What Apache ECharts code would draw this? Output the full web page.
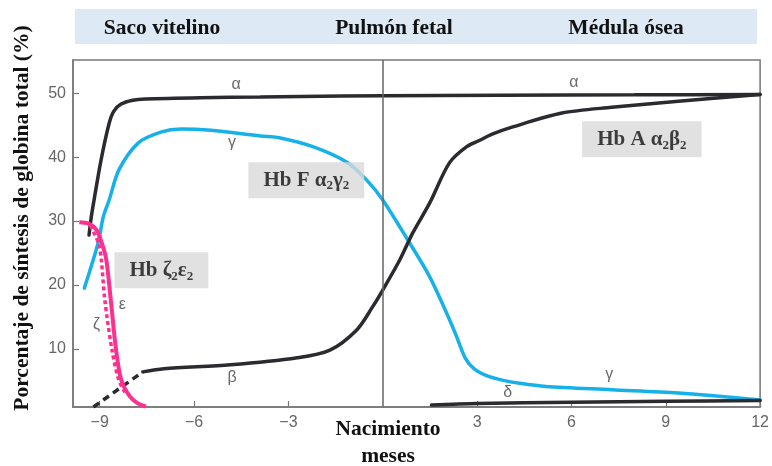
<!DOCTYPE html>
<html>
<head>
<meta charset="utf-8">
<script src="https://cdn.jsdelivr.net/npm/echarts@6/dist/echarts.min.js"></script>
<style>html,body{margin:0;padding:0;background:#fff}#c{width:772px;height:466px}</style>
</head>
<body>
<div id="c"></div>
<script>
// ---- data (months, % of total globin synthesis) ----
const xTicks = [-9, -6, -3, 3, 6, 9, 12];
const yTicks = [10, 20, 30, 40, 50];
const alpha = [[-9.34,27.8],[-9.27,30.6],[-9.18,33.3],[-8.96,39.5],[-8.70,45.3],[-8.55,47.2],[-8.32,48.3],[-7.95,48.9],[-7.55,49.1],[-5.8,49.3],[-3.9,49.4],[-2.6,49.5],[0,49.6],[3.7,49.7],[8,49.75],[12,49.8]];
const gamma = [[-9.49,19.5],[-9.05,26.6],[-8.89,30.6],[-8.70,33.3],[-8.39,38.0],[-7.78,42.2],[-7.06,43.9],[-6.42,44.4],[-5.47,44.2],[-3.89,43.3],[-3.26,43.0],[-2.2,41.6],[-1.14,39.2],[-0.51,36.4],[0,33.3],[0.85,26.6],[1.49,21.3],[2.03,15.6],[2.35,11.9],[2.62,8.6],[2.9,6.9],[3.3,5.8],[3.8,5.1],[4.36,4.6],[5.19,4.1],[7.28,3.6],[9.40,3.1],[12,2.0]];
const beta = [[-7.63,6.4],[-6.96,6.9],[-4.84,7.5],[-2.72,8.6],[-1.68,9.8],[-0.82,13.0],[-0.32,16.6],[0,19.2],[0.54,23.9],[0.95,28.1],[1.49,32.8],[2.12,39.1],[2.66,41.6],[3.07,42.6],[3.48,43.6],[4.11,44.7],[5.70,46.9],[7.28,47.8],[9.40,48.75],[12,49.8]];
const betaEarly = [[-9.2,0.9],[-7.63,6.4]];
const delta = [[1.55,1.2],[3,1.45],[6,1.65],[9,1.8],[12,1.9]];
const epsilon = [[-9.65,29.8],[-9.35,29.6],[-9.1,28.6],[-8.93,26.5],[-8.79,23.9],[-8.65,17.7],[-8.48,9.8],[-8.32,5.2],[-8.05,2.6],[-7.8,1.5],[-7.53,0.95]];
const zeta = [[-9.3,29.3],[-9.04,26.5],[-8.95,23.9],[-8.84,17.7],[-8.61,9.8],[-8.40,5.2],[-8.2,3.2]];
const greekText = ['α','α','γ','γ','β','δ','ε','ζ'];
const greekPos = [[-4.66,51.4],[6.08,51.6],[-4.79,42.2],[7.2,5.9],[-4.79,5.5],[3.97,3.1],[-8.28,16.9],[-9.1,13.75]];
const boxText = ['{m|Hb ζ}{s|2}{m|ε}{s|2}', '{m|Hb F α}{s|2}{m|γ}{s|2}', '{m|Hb A α}{s|2}{m|β}{s|2}'];
const boxPos = [[-7.04,22.3],[-2.43,36.4],[8.24,42.8]];
const bandLabels = ['Saco vitelino', 'Pulmón fetal', 'Médula ósea'];
const bandLabelX = [162, 394, 626];

const serif = "'Liberation Serif','Times New Roman',serif";
const sans = "'Liberation Sans',Arial,sans-serif";
const BLACK = '#2a2a2f', CYAN = '#17b1ea', PINK = '#ff2f8e', GRAY = '#777';

function lineSeries(data, color, extra) {
  return Object.assign({
    type: 'line', data: data, symbol: 'none', smooth: 0.3,
    lineStyle: { color: color, width: 3.5, cap: 'round' }, z: 3, silent: true
  }, extra || {});
}

const chart = echarts.init(document.getElementById('c'), null, { renderer: 'canvas' });
chart.setOption({
  animation: false,
  grid: { left: 73, right: 11, top: 60, bottom: 59, show: true, borderColor: GRAY, borderWidth: 1.5, backgroundColor: 'transparent' },
  xAxis: {
    type: 'value', min: -9.85, max: 12,
    axisLine: { onZero: false, lineStyle: { color: GRAY, width: 1.5 } },
    axisTick: { inside: true, length: 6, lineStyle: { color: GRAY, width: 1.2 }, customValues: xTicks },
    axisLabel: { customValues: xTicks, color: '#666', fontSize: 16, fontFamily: sans, margin: 8,
      formatter: v => String(v).replace('-', '\u2212') },
    splitLine: { show: false }
  },
  yAxis: {
    type: 'value', min: 0.9, max: 55.2,
    axisLine: { show: true, onZero: false, lineStyle: { color: GRAY, width: 1.5 } },
    axisTick: { show: true, inside: true, length: 6, lineStyle: { color: GRAY, width: 1.2 }, customValues: yTicks },
    axisLabel: { customValues: yTicks, color: '#666', fontSize: 16, fontFamily: sans, margin: 7 },
    splitLine: { show: false }
  },
  series: [
    lineSeries(alpha, BLACK, {
      markLine: { silent: true, symbol: 'none', label: { show: false },
        lineStyle: { color: '#666', width: 1.5, type: 'solid' }, data: [{ xAxis: 0 }] }
    }),
    lineSeries(gamma, CYAN),
    lineSeries(beta, BLACK),
    lineSeries(betaEarly, BLACK, { smooth: false, lineStyle: { color: BLACK, width: 3.5, type: [7, 5] } }),
    lineSeries(delta, BLACK),
    lineSeries(zeta, PINK, { lineStyle: { color: PINK, width: 3.5, type: [4, 3] } }),
    lineSeries(epsilon, PINK, { lineStyle: { color: PINK, width: 4 } }),
    {
      type: 'scatter', symbolSize: 0, silent: true, z: 5,
      data: greekPos.map((p, i) => ({ value: p, name: greekText[i] })),
      label: { show: true, position: 'inside', formatter: p => p.name, color: '#444', fontSize: 16, fontFamily: sans }
    },
    {
      type: 'scatter', symbolSize: 0, silent: true, z: 6,
      data: boxPos.map((p, i) => ({ value: p, name: boxText[i] })),
      label: {
        show: true, position: 'inside', formatter: p => p.name,
        backgroundColor: '#d9d9d9', padding: [4, 15, 4, 15],
        rich: {
          m: { fontSize: 21, fontWeight: 'bold', fontFamily: serif, color: '#111', lineHeight: 28 },
          s: { fontSize: 13, fontWeight: 'bold', fontFamily: serif, color: '#111', padding: [12, 0, 0, 0] }
        }
      }
    }
  ],
  graphic: [
    { type: 'rect', left: 75, top: 9, shape: { width: 682, height: 35 }, style: { fill: '#dde9f5' }, z: -1 },
    ...bandLabels.map((t, i) => ({
      type: 'text', x: bandLabelX[i], y: 28,
      style: { text: t, fontSize: 21.5, fontWeight: 'bold', fontFamily: serif, fill: '#111', textAlign: 'center', textVerticalAlign: 'middle' }
    })),
    { type: 'text', x: 22, y: 218, rotation: Math.PI / 2,
      style: { text: 'Porcentaje de síntesis de globina total (%)', fontSize: 21.5, fontWeight: 'bold', fontFamily: serif, fill: '#111', textAlign: 'center', textVerticalAlign: 'middle' } },
    { type: 'text', x: 388, y: 429,
      style: { text: 'Nacimiento', fontSize: 21.5, fontWeight: 'bold', fontFamily: serif, fill: '#111', textAlign: 'center', textVerticalAlign: 'middle' } },
    { type: 'text', x: 388, y: 456,
      style: { text: 'meses', fontSize: 21.5, fontWeight: 'bold', fontFamily: serif, fill: '#111', textAlign: 'center', textVerticalAlign: 'middle' } }
  ]
});
</script>
</body>
</html>
